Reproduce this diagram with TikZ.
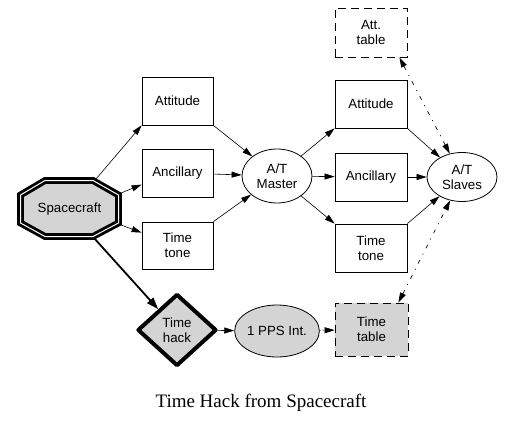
\documentclass[tikz,border=0pt]{standalone}
\usepackage{fontspec}
\setmainfont{Liberation Serif}
\newfontfamily\arialfont{Liberation Sans}
\usetikzlibrary{shapes.geometric,arrows.meta,calc}
\definecolor{boxgray}{RGB}{212,212,212}
\begin{document}
\begin{tikzpicture}[x=1pt,y=-1pt,
  lbl/.style={font=\arialfont\fontsize{13.3}{15}\selectfont, align=center},
  box/.style={lbl, draw, line width=0.8pt, minimum width=71pt, minimum height=48pt, inner sep=0pt},
  ell/.style={lbl, draw, ellipse, line width=0.8pt, inner sep=0pt},
  dashbox/.style={dash pattern=on 8pt off 5pt},
  arr/.style={line width=0.6pt, -{Triangle[length=10pt,width=6pt]}},
  thickarr/.style={line width=1.8pt, -{Triangle[length=12pt,width=8pt]}},
  dd/.style={line width=0.7pt, dash pattern=on 4pt off 6pt on 1pt off 6pt,
             {Triangle[length=10pt,width=6pt]}-{Triangle[length=10pt,width=6pt]}},
  octo/.style={draw=black, line width=2.9pt, double=white, double distance=1pt, fill=boxgray, line join=miter}
]
\useasboundingbox (0,0) rectangle (516,425);

% Spacecraft octagon
\draw[octo] (45,180.5) -- (93,180.5) -- (118.5,195) -- (118.5,223) -- (93,236.5) -- (45,236.5) -- (20.5,223) -- (20.5,195) -- cycle;
\node[lbl] (sc) at (69.5,209) {Spacecraft};
\coordinate (scNE) at (96,179);
\coordinate (scE1) at (121,193);
\coordinate (scE2) at (121,225);
\coordinate (scSE) at (94,238);

% left column
\node[box] (attL) at (177.5,101) {Attitude};
\node[box] (ancL) at (177.5,173) {Ancillary};
\node[box, minimum height=47pt] (ttL) at (177.5,245.5) {Time\\tone};

% master
\node[ell, minimum width=70pt, minimum height=54pt] (master) at (277,176) {A/T\\Master};

% right column
\node[box, dashbox, minimum width=72pt, minimum height=49pt] (atab) at (371,32.5) {Att.\\table};
\node[box, minimum width=72pt] (attR) at (371,104) {Attitude};
\node[box, minimum width=72pt] (ancR) at (371,177) {Ancillary};
\node[box, minimum width=72pt] (ttR) at (371,248) {Time\\tone};

% slaves
\node[ell, minimum width=70pt, minimum height=49pt] (slaves) at (462,177) {A/T\\Slaves};

% bottom row
\node[lbl, draw, diamond, line width=4pt, fill=boxgray, line join=round, inner sep=0pt,
      minimum width=79pt, minimum height=72pt] (hack) at (177,330) {Time\\hack};
\node[ell, fill=boxgray, minimum width=79pt, minimum height=52pt] (pps) at (277,331) {1 PPS Int.};
\node[box, dashbox, fill=boxgray, minimum width=73pt, minimum height=53pt] (ttab) at (371.5,329.5) {Time\\table};

% caption
\node[font=\fontsize{19}{21}\selectfont] (cap) at (261,403) {Time Hack from Spacecraft};

% connectors
\draw[arr] (scNE) -- (attL.south west);
\draw[arr] (scE1) -- ($(ancL.north west)+(0,36)$);
\draw[arr] (scE2) -- ($(ttL.north west)+(0,11)$);
\draw[thickarr] (scSE) -- (hack);

\draw[arr] (attL.south east) -- (master);
\draw[arr] (ancL) -- (master);
\draw[arr] (ttL.north east) -- (master);

\draw[arr] (master) -- (attR.south west);
\draw[arr] (master) -- (ancR);
\draw[arr] (master) -- (ttR.north west);

\draw[arr] (attR.south east) -- (slaves);
\draw[arr] (ancR) -- (slaves);
\draw[arr] (ttR.north east) -- (slaves);

\draw[dd] ($(atab.south east)+(-8,0)$) -- (slaves);
\draw[dd] ($(ttab.north east)+(-10,0)$) -- (slaves);

\draw[arr] (hack) -- (pps);
\draw[arr, dash pattern=on 1pt off 2pt] (pps) -- (ttab);
\end{tikzpicture}
\end{document}
